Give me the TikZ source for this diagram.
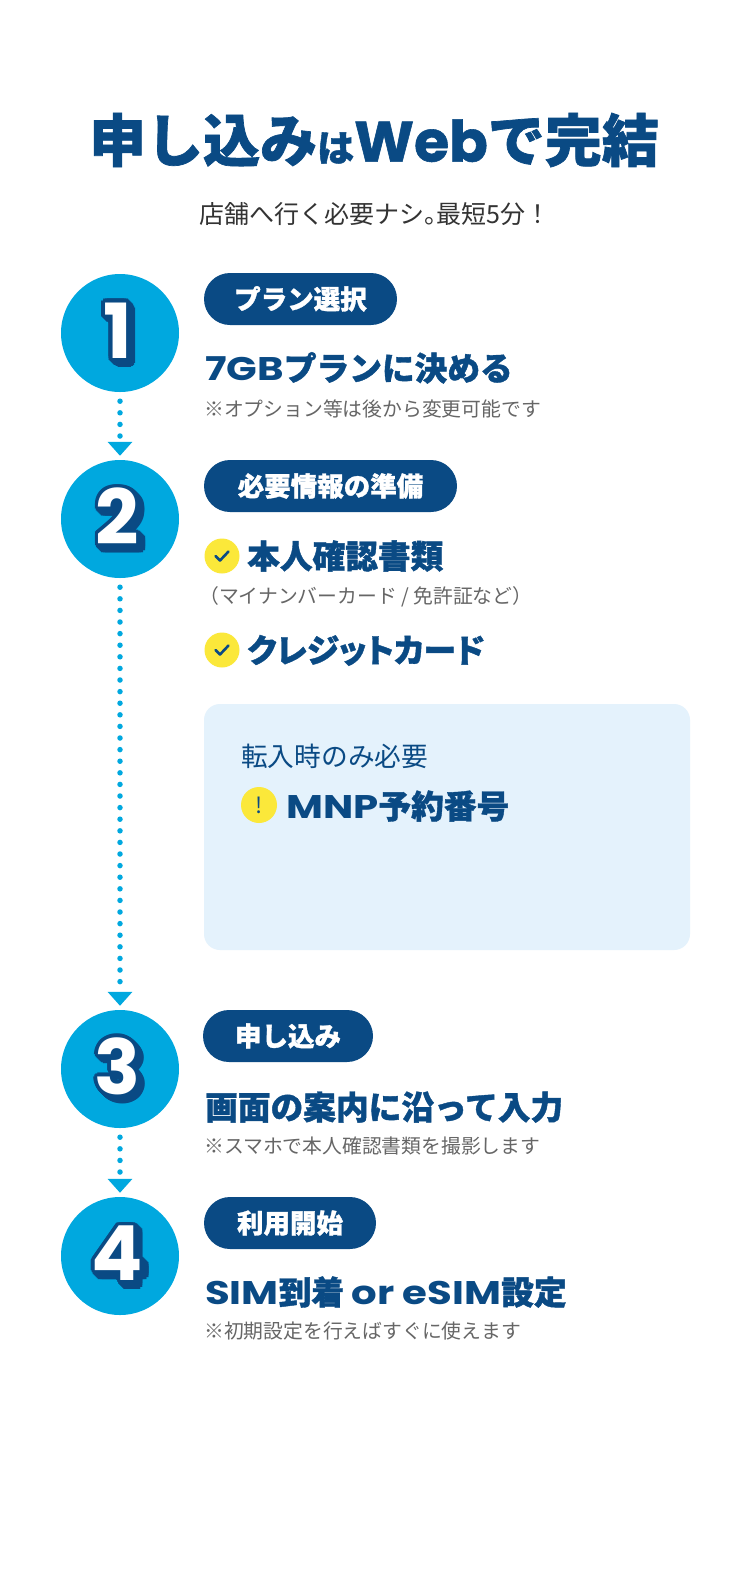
\documentclass[tikz,border=0pt]{standalone}
\usepackage{fontspec}
\setmainfont{Noto Sans CJK JP}
\newfontfamily\lat{Poppins}
\newfontfamily\latt{Poppins}[BoldFeatures={FakeBold=1}]
\newfontfamily\latw{Poppins}[FakeStretch=1.23]
\newfontfamily\heavy{Noto Sans CJK JP}[BoldFeatures={FakeBold=1.2}]
\newfontfamily\heavyp{Noto Sans CJK JP}[RawFeature=+palt, BoldFeatures={FakeBold=1.2}]
\usetikzlibrary{arrows.meta,calc}
\definecolor{navy}{HTML}{0A4A84}
\definecolor{cyanc}{HTML}{00A8DF}
\definecolor{yel}{HTML}{FBE83A}
\definecolor{boxc}{HTML}{E4F2FC}
\definecolor{notec}{HTML}{666666}
\definecolor{subc}{HTML}{333333}
\tikzset{
  stepcircle/.style={circle, fill=cyanc, minimum size=118pt, inner sep=0pt},
  pill/.style={fill=navy, rounded corners=26pt, minimum height=52pt, inner sep=0pt, text=white,
    font=\heavy\bfseries\fontsize{26.5}{26.5}\selectfont, text height=23.3pt, text depth=3.2pt},
  head/.style={anchor=west, inner sep=0pt, text=navy,
    font=\heavy\bfseries\fontsize{32.7}{32.7}\selectfont, text height=28.8pt, text depth=3.9pt},
  note/.style={anchor=west, inner sep=0pt, text=notec,
    font=\fontsize{19.8}{19.8}\selectfont, text height=17.4pt, text depth=2.4pt},
  checkdot/.style={circle, fill=yel, minimum size=35pt, inner sep=0pt},
  checkline/.style={draw=navy, line width=2.6pt, line cap=round, line join=round},
  digit/.style={inner sep=0pt, font=\lat\bfseries\fontsize{76}{76}\selectfont},
  flow/.style={draw=cyanc, line width=5.5pt, line cap=round, dash pattern=on 0pt off 11.6pt,
    shorten <=9pt, shorten >=4pt, -{Triangle[width=24pt,length=14pt]}},
}
\newcommand\stepdigit[3]{%
  \foreach \s in {0,1,...,5}{\foreach \a in {0,30,...,330}{
    \path ($(#2)+(-2.5,-2.5)+(\s,\s)+(\a:3.8)$) node[digit,text=navy]{#3};}}
  \node[digit,text=white] (#1) at ($(#2)+(-2.5,-2.5)$) {#3};
}
\begin{document}
\begin{tikzpicture}[x=1pt,y=-1pt]
\fill[white] (0,0) rectangle (750,1596);
\useasboundingbox (0,0) rectangle (750,1596);

% title
\node[inner sep=0pt, text=navy, font=\heavy\bfseries\fontsize{57}{57}\selectfont] (title) at (374,140)
  {申し込み{\fontsize{37}{37}\selectfont は}{\latt Web}で完結};
\node[inner sep=0pt, text=subc, font=\fontsize{25}{25}\selectfont] (sub) at (375,214)
  {店舗へ行く必要ナシ\makebox[0.5em][l]{。}最短5分！};

% step circles
\node[stepcircle] (c1) at (120,333) {};
\node[stepcircle] (c2) at (120,519) {};
\node[stepcircle] (c3) at (120,1069) {};
\node[stepcircle] (c4) at (120,1256) {};
\stepdigit{d1}{c1}{1}
\stepdigit{d2}{c2}{2}
\stepdigit{d3}{c3}{3}
\stepdigit{d4}{c4}{4}

% connectors
\draw[flow] (c1) -- (c2);
\draw[flow] (c2) -- (c3);
\draw[flow] (c3) -- (c4);

% step 1
\node[pill, minimum width=193pt] (p1) at (300.5,299) {プラン選択};
\node[head] (h1) at (205,368) {{\latw 7GB}プランに決める};
\node[note] (n1) at (204,409) {※オプション等は後から変更可能です};

% step 2
\node[pill, minimum width=253pt] (p2) at (330.5,486) {必要情報の準備};
\node[checkdot] (k1) at (222,556) {};
\draw[checkline] ($(k1)+(-6.5,0)$) -- ($(k1)+(-2,4.5)$) -- ($(k1)+(6.5,-4.5)$);
\node[head] (h2a) at (247,556) {本人確認書類};
\node[note] (n2) at (199,596) {（マイナンバーカード / 免許証など）};
\node[checkdot] (k2) at (222,650) {};
\draw[checkline] ($(k2)+(-6.5,0)$) -- ($(k2)+(-2,4.5)$) -- ($(k2)+(6.5,-4.5)$);
\node[head, font=\heavyp\bfseries\fontsize{32.7}{32.7}\selectfont] (h2b) at (247,650) {クレジットカード};

% MNP box
\node[fill=boxc, rounded corners=16pt, minimum width=486pt, minimum height=246pt, inner sep=0pt] (box) at (447,827) {};
\node[anchor=west, inner sep=0pt, text=navy, font=\fontsize{26.7}{26.7}\selectfont, text height=23.5pt, text depth=3.2pt] (bt) at (241,756) {転入時のみ必要};
\node[checkdot, minimum size=36pt, text=navy, font=\fontsize{22}{22}\selectfont] (ex) at (259,805) {!};
\node[head] (mnp) at (286,806) {{\latw MNP}予約番号};

% step 3
\node[pill, minimum width=170pt] (p3) at (288,1036) {申し込み};
\node[head] (h3) at (205,1107) {画面の案内に沿って入力};
\node[note] (n3) at (204,1146) {※スマホで本人確認書類を撮影します};

% step 4
\node[pill, minimum width=172pt] (p4) at (290,1223) {利用開始};
\node[head] (h4) at (205,1292) {{\latw SIM}到着 {\latw or eSIM}設定};
\node[note] (n4) at (204,1331) {※初期設定を行えばすぐに使えます};
\end{tikzpicture}
\end{document}
